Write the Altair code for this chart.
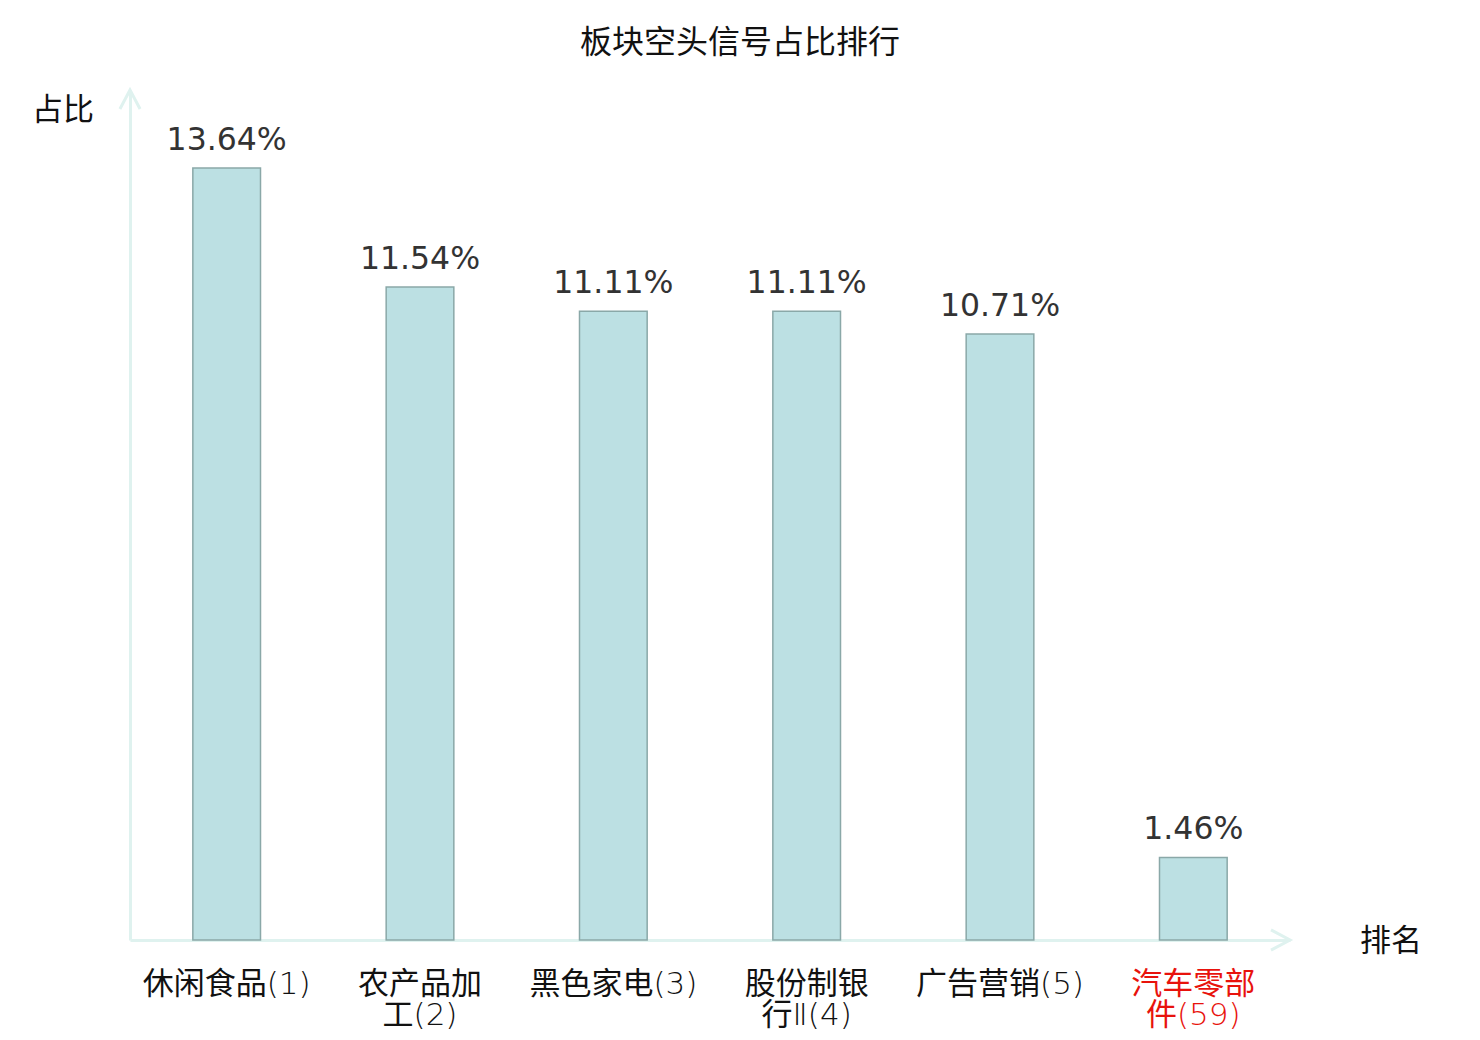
import altair as alt
import pandas as pd

categories = ["休闲食品(1)", "农产品加\n工(2)", "黑色家电(3)", "股份制银\n行Ⅱ(4)", "广告营销(5)", "汽车零部\n件(59)"]
values = [13.64, 11.54, 11.11, 11.11, 10.71, 1.46]
value_labels = ["13.64%", "11.54%", "11.11%", "11.11%", "10.71%", "1.46%"]
highlight = "汽车零部\n件(59)"

df = pd.DataFrame({"cat": categories, "val": values, "lab": value_labels})

AXIS_COLOR = "#DFF2EF"
CJK = "Noto Sans CJK SC"
W, H = 1160, 850

x_enc = alt.X(
    "cat:N",
    sort=categories,
    scale=alt.Scale(paddingInner=0.65, paddingOuter=0.325),
    axis=alt.Axis(
        title=None,
        ticks=False,
        grid=False,
        domainColor=AXIS_COLOR,
        domainWidth=3,
        labelAngle=0,
        labelFont="DejaVu Sans ExtraLight, DejaVu Sans Light, Noto Sans CJK SC",
        labelFontSize=31,
        labelLineHeight=31,
        labelPadding=29,
        labelColor=alt.expr(f"datum.value == {highlight!r} ? '#E8120C' : '#111111'".replace("\n", "\\n")),
        labelExpr="split(datum.label, '\\n')",
    ),
)
y_enc = alt.Y(
    "val:Q",
    scale=alt.Scale(domain=[0, 15.02], nice=False),
    axis=alt.Axis(
        title=None, ticks=False, labels=False, grid=False,
        domainColor=AXIS_COLOR, domainWidth=3,
    ),
)

bars = alt.Chart(df).mark_bar(
    fill="#BCE0E3", stroke="#8AA8A8", strokeWidth=1.5
).encode(x=x_enc, y=y_enc)

texts = alt.Chart(df).mark_text(
    font="DejaVu Sans", fontSize=31.5, color="#333333", baseline="alphabetic", dy=-18
).encode(x=alt.X("cat:N", sort=categories), y="val:Q", text="lab:N")

chev = "M-0.53,1L0,0L0.53,1"
arrow_up = alt.Chart(df.head(1)).mark_point(
    shape=chev, size=1444, filled=False, stroke=AXIS_COLOR, strokeWidth=3, opacity=1
).encode(x=alt.value(0), y=alt.value(0))
arrow_right = alt.Chart(df.head(1)).mark_point(
    shape=chev, size=1444, filled=False, stroke=AXIS_COLOR, strokeWidth=3, opacity=1, angle=90
).encode(x=alt.value(W), y=alt.value(H))

ylab = alt.Chart(df.head(1)).mark_text(
    text="占比", font=CJK, fontSize=31, color="#111111", align="center", baseline="middle"
).encode(x=alt.value(-67), y=alt.value(21))
xlab = alt.Chart(df.head(1)).mark_text(
    text="排名", font=CJK, fontSize=31, color="#111111", align="center", baseline="middle"
).encode(x=alt.value(1261), y=alt.value(852))
title = alt.Chart(df.head(1)).mark_text(
    text="板块空头信号占比排行", font=CJK, fontSize=32, color="#111111", align="center", baseline="middle"
).encode(x=alt.value(610), y=alt.value(-47))

chart = alt.layer(bars, texts, arrow_up, arrow_right, ylab, xlab, title).properties(
    width=W, height=H,
    background="white",
    autosize=alt.AutoSizeParams(type="none"),
    padding={"left": 122, "top": 82, "right": 170, "bottom": 100},
).configure_view(strokeWidth=0, stroke="transparent")

chart.save("out.html", embed_options={"renderer": "svg", "actions": False})
